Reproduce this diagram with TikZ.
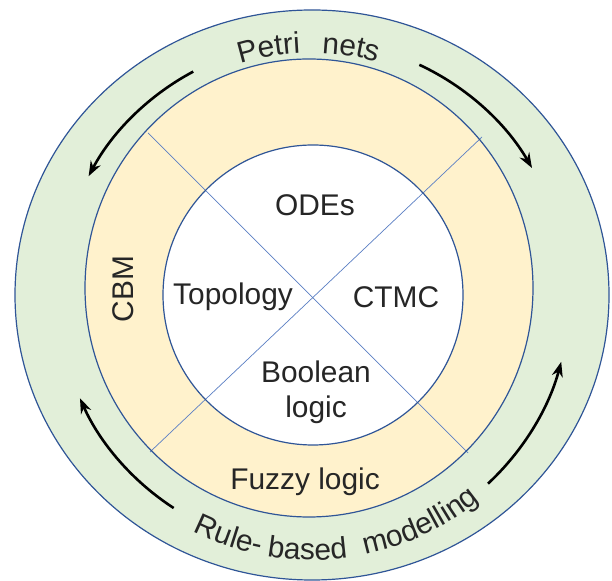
\documentclass[tikz,border=0pt]{standalone}
\usepackage{fontspec}
\setmainfont{Liberation Sans}
\usepackage{tikz}
\usetikzlibrary{arrows.meta,decorations.text}

\definecolor{ringgreen}{HTML}{E2EFD9}
\definecolor{ringorange}{HTML}{FFF2CC}
\definecolor{rimblue}{HTML}{2F5597}
\definecolor{crossblue}{HTML}{5B7FC4}

\newcommand{\lblfont}{\fontsize{30}{35}\selectfont}

\begin{document}
\begin{tikzpicture}[x=1bp, y=1bp,
  rim/.style={draw=rimblue, line width=1.2bp},
  divider/.style={draw=crossblue, line width=0.7bp},
  cyclearrow/.style={line width=2.6bp, -{Stealth[length=15bp,width=11bp]}},
  every node/.style={font=\lblfont, text=black!85}]
  \useasboundingbox (0,0) rectangle (612,581);
  \coordinate (oc) at (312,286);
  \coordinate (mc) at (309,293);
  \coordinate (ic) at (313,286);
  % rings
  \fill[ringgreen] (oc) ellipse [x radius=297, y radius=285];
  \fill[ringorange] (mc) ellipse [x radius=224, y radius=229];
  \fill[white] (ic) circle [radius=150];
  % dividers
  \coordinate (ul) at (148,448);
  \coordinate (ur) at (482,444);
  \coordinate (ll) at (150,129);
  \coordinate (lr) at (468,128);
  \draw[divider] (ul) -- (lr);
  \draw[divider] (ur) -- (ll);
  \draw[rim] (oc) ellipse [x radius=297, y radius=285];
  \draw[rim] (mc) ellipse [x radius=224, y radius=229];
  \draw[rim] (ic) circle [radius=150];
  % arrows in the outer ring
  \draw[cyclearrow] ([shift={(118:253)}]oc) arc[start angle=118, end angle=152, radius=253];
  \draw[cyclearrow] ([shift={(65:254)}]oc) arc[start angle=65, end angle=30, radius=254];
  \draw[cyclearrow] ([shift={(237:254)}]oc) arc[start angle=237, end angle=204, radius=254];
  \draw[cyclearrow] ([shift={(-47:258)}]oc) arc[start angle=-47, end angle=-15, radius=258];
  % curved labels
  \path[decorate, decoration={text along path, text align=center,
    text={|\lblfont\color{black!85}|Petri}}]
    ([shift={(125:242)}]oc) arc[start angle=125, end angle=75, radius=242];
  \path[decorate, decoration={text along path, text align=center,
    text={|\lblfont\color{black!85}|nets}}]
    ([shift={(106:242)}]oc) arc[start angle=106, end angle=56, radius=242];
  \path[decorate, decoration={text along path, text align=center,
    text={|\lblfont\color{black!85}|Rule-}}]
    ([shift={(226:265)}]oc) arc[start angle=226, end angle=276, radius=265];
  \path[decorate, decoration={text along path, text align=center,
    text={|\lblfont\color{black!85}|based}}]
    ([shift={(244:265)}]oc) arc[start angle=244, end angle=294, radius=265];
  \path[decorate, decoration={text along path, text align=center,
    text={|\lblfont\color{black!85}|modelling}}]
    ([shift={(265:265)}]oc) arc[start angle=265, end angle=326, radius=265];
  % labels
  \node (odes) at (315,376) {ODEs};
  \node (topo) at (233,284) {Topology};
  \node (ctmc) at (396,284) {CTMC};
  \node[align=center] (bool) at (316,189) {Boolean\\logic};
  \node (fuzzy) at (305,99) {Fuzzy logic};
  \node[rotate=90] (cbm) at (123,292) {CBM};
\end{tikzpicture}
\end{document}
